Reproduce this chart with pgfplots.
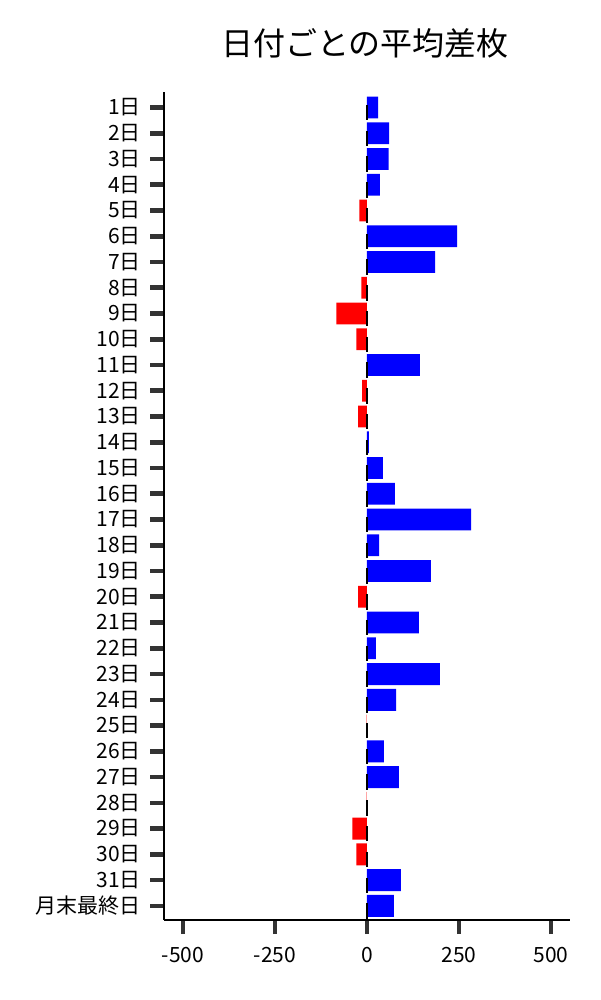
\documentclass[border=0pt]{standalone}
\usepackage{pgfplots}
\pgfplotsset{compat=1.18}
\usepackage{fontspec}
\setmainfont{Noto Sans CJK JP}
\definecolor{tickgray}{HTML}{333333}
\begin{document}
\begin{tikzpicture}
\path[use as bounding box] (0,0) rectangle (300pt,500pt);
\node[font=\fontsize{16}{19}\selectfont] at (182.5pt,478.5pt) {日付ごとの平均差枚};
\begin{axis}[
  at={(82pt,40pt)}, anchor=south west,
  width=203pt, height=414pt, scale only axis,
  xmin=-552, xmax=552, ymin=-0.6, ymax=31.55,
  y dir=reverse,
  axis x line*=bottom, axis y line*=left,
  axis line style={line width=0.7pt, black},
  tick align=outside, major tick length=7pt,
  tick style={line width=2.3pt, tickgray},
  xtick={-500,-250,0,250,500},
  xticklabels={-500,-250,0,250,500},
  ytick={0,...,31},
  yticklabels={1日,2日,3日,4日,5日,6日,7日,8日,9日,10日,11日,12日,13日,14日,15日,16日,17日,18日,19日,20日,21日,22日,23日,24日,25日,26日,27日,28日,29日,30日,31日,月末最終日},
  ticklabel style={font=\fontsize{10.5}{12.5}\selectfont},
  xticklabel style={yshift=-3pt},
  yticklabel style={xshift=-1pt},
  clip=false,
]
\addplot[xbar, bar width=0.85, bar shift=0pt, draw=none, fill={rgb,255:red,0;green,0;blue,255}] coordinates {
(30,0) (60,1) (59,2) (35,3) (245,5) (185,6) (144,10) (5,13) (43,14) (76,15) (283,16) (33,17) (174,18) (141,20) (24,21) (198,22) (79,23) (46,25) (87,26) (92,30) (73,31)
};
\addplot[xbar, bar width=0.85, bar shift=0pt, draw=none, fill={rgb,255:red,255;green,0;blue,0}] coordinates {
(-21,4) (-15,7) (-83,8) (-29,9) (-13,11) (-24,12) (-24,19) (-1,24) (-1,27) (-40,28) (-29,29)
};
\addplot[draw=none, mark=none, error bars/.cd, y dir=both, y explicit, error mark=none, error bar style={line width=1.1pt, black}] table[x=x, y=y, y error=e] {
x y e
-1 0.2 0.3
-1 1.2 0.3
-1 2.2 0.3
-1 3.2 0.3
-1 4.2 0.3
-1 5.2 0.3
-1 6.2 0.3
-1 7.2 0.3
-1 8.2 0.3
-1 9.2 0.3
-1 10.2 0.3
-1 11.2 0.3
-1 12.2 0.3
-1 13.2 0.3
-1 14.2 0.3
-1 15.2 0.3
-1 16.2 0.3
-1 17.2 0.3
-1 18.2 0.3
-1 19.2 0.3
-1 20.2 0.3
-1 21.2 0.3
-1 22.2 0.3
-1 23.2 0.3
-1 24.2 0.3
-1 25.2 0.3
-1 26.2 0.3
-1 27.2 0.3
-1 28.2 0.3
-1 29.2 0.3
-1 30.2 0.3
-1 31.2 0.3
};
\end{axis}
\end{tikzpicture}
\end{document}
